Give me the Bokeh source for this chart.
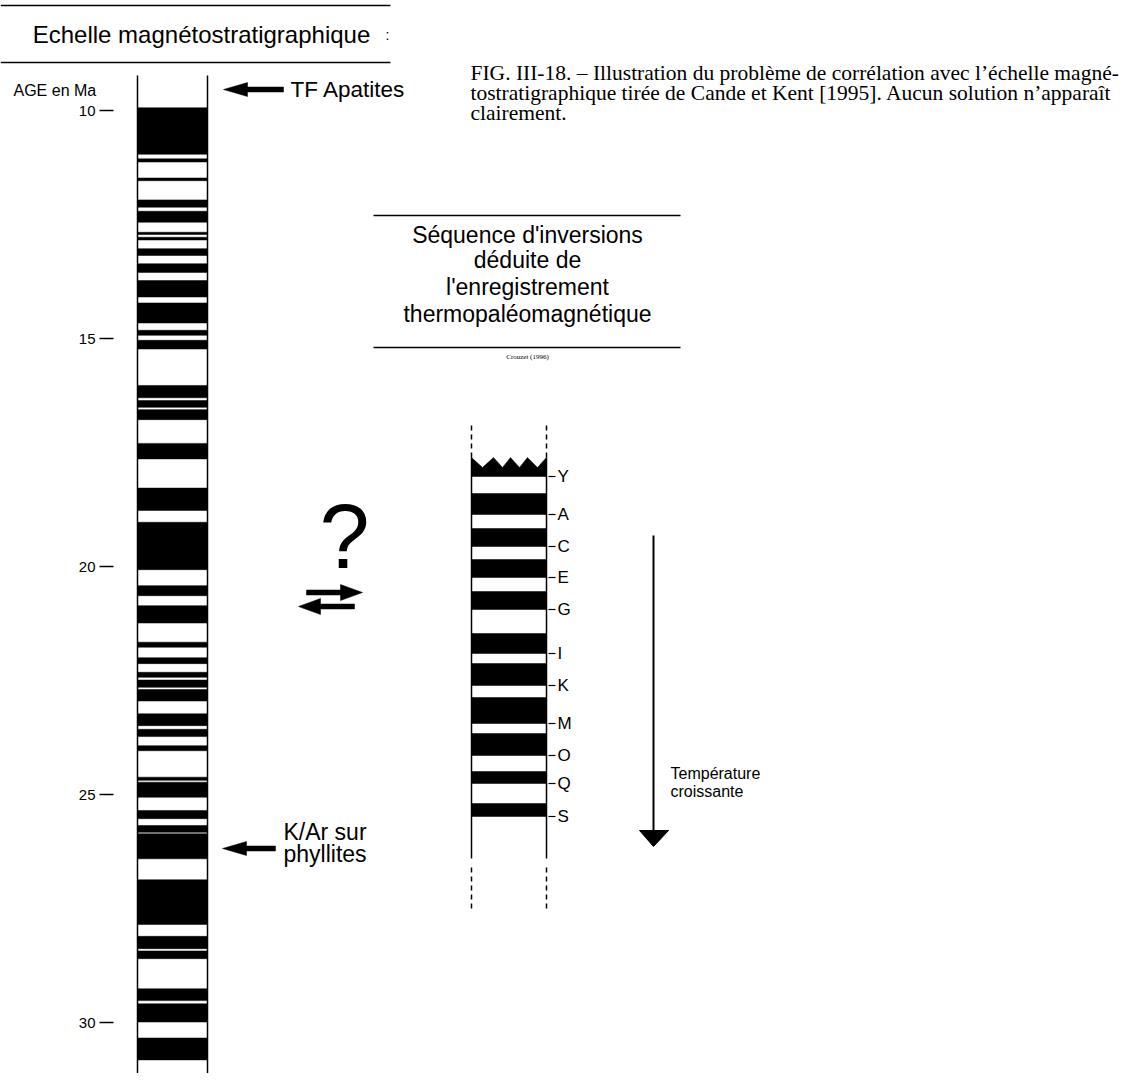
from bokeh.plotting import figure
from bokeh.models import Range1d
from bokeh.core.properties import value
from bokeh.embed import file_html
from bokeh.resources import INLINE

# ---------------- data ----------------
# Magnetostratigraphic scale (Cande & Kent 1995), ages in Ma; black = normal polarity
age_ticks = [10, 15, 20, 25, 30]
age_tick_labels = ["10", "15", "20", "25", "30"]
normal_top = [9.94, 11.06, 11.48, 11.96, 12.21, 12.67, 12.78, 13.03, 13.36, 13.73,
              14.22, 14.82, 15.04, 16.03, 16.36, 16.56, 17.30, 18.28, 19.03, 20.42,
              20.86, 21.66, 22.00, 22.32, 22.49, 22.70, 23.23, 23.57, 23.93, 24.62,
              24.73, 25.35, 25.68, 25.86, 26.87, 28.11, 28.43, 29.26, 29.59, 30.34]
normal_bottom = [10.96, 11.13, 11.54, 12.12, 12.45, 12.72, 12.84, 13.18, 13.55, 14.09,
                 14.66, 14.93, 15.23, 16.30, 16.51, 16.78, 17.64, 18.77, 20.07, 20.64,
                 21.24, 21.77, 22.13, 22.43, 22.65, 22.95, 23.49, 23.73, 24.04, 24.69,
                 25.06, 25.53, 25.83, 26.41, 27.85, 28.38, 28.60, 29.52, 29.99, 30.82]
scale_start_age = 9.23
scale_end_age = 31.3

# Thermo-palaeomagnetic inversion sequence (Crouzet 1996), depth positions (arbitrary units)
seq_labels = ["Y", "A", "C", "E", "G", "I", "K", "M", "O", "Q", "S"]
seq_black_top = [493, 528, 559, 591, 633, 663, 697, 733, 771, 803]
seq_black_bottom = [514, 546, 577, 609, 653, 685, 723, 755, 783, 816]
seq_label_pos = [476] + seq_black_bottom

caption_lines = [
    "FIG. III-18. – Illustration du problème de corrélation avec l’échelle magné-",
    "tostratigraphique tirée de Cande et Kent [1995]. Aucun solution n’apparaît",
    "clairement.",
]
seq_title_lines = ["Séquence d'inversions", "déduite de", "l'enregistrement",
                   "thermopaléomagnétique"]

# ---------------- figure ----------------
# ages -> page: y = 110 + 45.6 * (age - 10)
TOP_AGE = 10 + (0 - 110) / 45.6
BOT_AGE = 10 + (1073 - 110) / 45.6

p = figure(width=1127, height=1073, x_range=Range1d(0, 1127),
           y_range=Range1d(BOT_AGE, TOP_AGE), output_backend="svg",
           toolbar_location=None, x_axis_location=None, y_axis_location=None,
           min_border=0, outline_line_color=None, background_fill_color="white")
p.extra_y_ranges = {"px": Range1d(1073, 0)}
p.grid.visible = False

SANS = value("Liberation Sans")
SERIF = value("Liberation Serif")

# --- left: title box ---
p.segment(x0=[0, 0], y0=[5, 62], x1=[390, 390], y1=[5, 62], line_color="black",
          line_width=1.6, y_range_name="px")
p.text(x=[201], y=[34], text=["Echelle magnétostratigraphique"], text_font=SANS,
       text_font_size=value("24px"), text_align="center", text_baseline="middle",
       y_range_name="px")
p.text(x=[387], y=[34], text=[":"], text_font=SANS, text_font_size=value("14px"),
       text_align="center", text_baseline="middle", y_range_name="px")
p.text(x=[13], y=[90], text=["AGE en Ma"], text_font=SANS, text_font_size=value("16px"),
       text_align="left", text_baseline="middle", y_range_name="px")

# --- left: age scale ---
p.quad(left=137, right=207, top=normal_top, bottom=normal_bottom,
       fill_color="black", line_color="black", line_width=0.5)
p.segment(x0=[137, 207], x1=[137, 207], y0=[scale_start_age] * 2,
          y1=[scale_end_age] * 2, line_color="black", line_width=1.5)
p.segment(x0=99, x1=113, y0=age_ticks, y1=age_ticks, line_color="black", line_width=1.5)
p.text(x=95, y=age_ticks, text=age_tick_labels, text_font=SANS,
       text_font_size=value("15px"), text_align="right", text_baseline="middle")

# --- arrows to the scale ---
def left_arrow(tip_x, y, tail_x, head_len=24, head_half=7, shaft_half=2.5):
    p.patch(x=[tip_x, tip_x + head_len, tip_x + head_len, tail_x, tail_x,
               tip_x + head_len, tip_x + head_len],
            y=[y, y - head_half, y - shaft_half, y - shaft_half, y + shaft_half,
               y + shaft_half, y + head_half],
            fill_color="black", line_color="black", line_width=0.5, y_range_name="px")

def right_arrow(tip_x, y, tail_x, head_len=22, head_half=8, shaft_half=2.5):
    p.patch(x=[tip_x, tip_x - head_len, tip_x - head_len, tail_x, tail_x,
               tip_x - head_len, tip_x - head_len],
            y=[y, y - head_half, y - shaft_half, y - shaft_half, y + shaft_half,
               y + shaft_half, y + head_half],
            fill_color="black", line_color="black", line_width=0.5, y_range_name="px")

left_arrow(223, 89, 283)
p.text(x=[290], y=[89], text=["TF Apatites"], text_font=SANS,
       text_font_size=value("22.5px"), text_align="left", text_baseline="middle",
       y_range_name="px")
left_arrow(222, 848, 275)
p.text(x=[283, 283], y=[831, 853], text=["K/Ar sur", "phyllites"], text_font=SANS,
       text_font_size=value("23px"), text_align="left", text_baseline="middle",
       y_range_name="px")

# --- question mark and double arrow ---
p.text(x=[344], y=[536], text=["?"], text_font=SANS, text_font_size=value("90px"),
       text_align="center", text_baseline="middle", y_range_name="px")
right_arrow(362, 592, 306)
left_arrow(298, 606, 354, head_len=22, head_half=8)

# --- caption ---
p.text(x=[470, 470, 470], y=[72, 92, 112], text=caption_lines, text_font=SERIF,
       text_font_size=value("21.5px"), text_align="left", text_baseline="middle",
       y_range_name="px")

# --- sequence title box ---
p.segment(x0=[373, 373], y0=[215, 347], x1=[680, 680], y1=[215, 347],
          line_color="black", line_width=1.6, y_range_name="px")
p.text(x=[527] * 4, y=[234, 259, 286, 313], text=seq_title_lines, text_font=SANS,
       text_font_size=value("23px"), text_align="center", text_baseline="middle",
       y_range_name="px")
p.text(x=[527], y=[356], text=["Crouzet (1996)"], text_font=SERIF,
       text_font_size=value("7px"), text_align="center", text_baseline="middle",
       y_range_name="px")

# --- sequence column ---
p.patch(x=[471, 471, 482, 493, 502, 510, 519, 527, 537, 546, 546],
        y=[476, 457, 467, 457, 467, 457, 467, 457, 467, 457, 476],
        fill_color="black", line_color="black", line_width=0.5, y_range_name="px")
p.quad(left=471, right=546, top=seq_black_top, bottom=seq_black_bottom,
       fill_color="black", line_color="black", line_width=0.5, y_range_name="px")
p.segment(x0=[471, 546], x1=[471, 546], y0=[457, 457], y1=[858, 858],
          line_color="black", line_width=1.5, y_range_name="px")
p.segment(x0=[471, 546, 471, 546], x1=[471, 546, 471, 546],
          y0=[425, 425, 867, 867], y1=[457, 457, 912, 912],
          line_color="black", line_width=1.5, line_dash="5 4", y_range_name="px")
p.segment(x0=548, x1=555, y0=seq_label_pos, y1=seq_label_pos, line_color="black",
          line_width=1.2, y_range_name="px")
p.text(x=557, y=seq_label_pos, text=seq_labels, text_font=SANS,
       text_font_size=value("17px"), text_align="left", text_baseline="middle",
       y_range_name="px")

# --- temperature arrow ---
p.segment(x0=[653], x1=[653], y0=[535], y1=[832], line_color="black", line_width=2,
          y_range_name="px")
p.patch(x=[639, 668, 653], y=[830, 830, 846], fill_color="black", line_color="black",
        y_range_name="px")
p.text(x=[670, 670], y=[773, 791], text=["Température", "croissante"], text_font=SANS,
       text_font_size=value("16px"), text_align="left", text_baseline="middle",
       y_range_name="px")

open("out.html", "w").write(file_html(p, INLINE))
